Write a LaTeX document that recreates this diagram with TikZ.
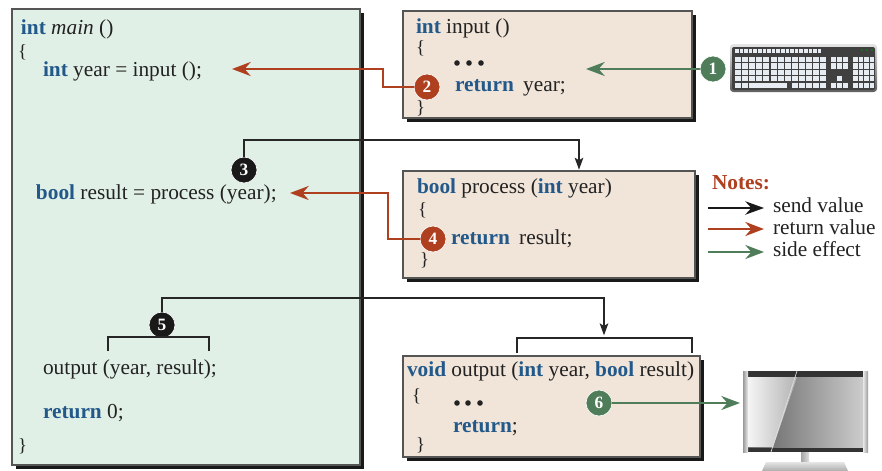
\documentclass[tikz,border=0pt]{standalone}
\usepackage{fontspec}
\setmainfont{Liberation Serif}
\usetikzlibrary{arrows.meta,shadows,calc}

\definecolor{kwblue}{HTML}{22598A}
\definecolor{retred}{HTML}{AE3F1F}
\definecolor{sidegreen}{HTML}{4F7D5A}
\definecolor{mainfill}{HTML}{E1F0E6}
\definecolor{funcfill}{HTML}{F1E4D8}
\definecolor{boxline}{HTML}{555555}
\definecolor{codetext}{HTML}{222222}
\definecolor{keycap}{HTML}{E6ECF2}

\newcommand{\kw}[1]{\textbf{\color{kwblue}#1}}

\begin{document}
\begin{tikzpicture}[x=0.75pt,y=-0.75pt,
  every node/.style={inner sep=0pt, outer sep=0pt},
  code/.style={anchor=base west, font=\fontsize{16}{19}\selectfont, text=codetext},
  brace/.style={anchor=base west, font=\fontsize{14}{16}\selectfont, text=codetext},
  panel/.style={draw=boxline, line width=0.8pt, anchor=north west,
    drop shadow={shadow xshift=3pt, shadow yshift=-3pt, opacity=1, fill=black!90}},
  num/.style={circle, minimum size=19.5pt, draw=white, line width=0.5pt,
    font=\fontsize{13}{13}\selectfont\bfseries, text=white},
  sendline/.style={draw=black!85, line width=1.1pt},
  send/.style={sendline, -{Stealth[length=9pt, width=6.5pt, inset=2pt]}},
  ret/.style={draw=retred, line width=1.7pt, -{Stealth[length=14pt, width=10.5pt, inset=4.5pt]}},
  side/.style={draw=sidegreen, line width=1.7pt, -{Stealth[length=14pt, width=10.5pt, inset=4.5pt]}},
  legsend/.style={draw=black!90, line width=1.7pt, -{Stealth[length=14pt, width=10pt, inset=4.5pt]}},
  dot/.style={fill=codetext, circle, minimum size=4.2pt},
]
\useasboundingbox (0,0) rectangle (882,471);

% ---------- panels ----------
\node[panel, fill=mainfill, minimum width=261pt, minimum height=342pt] (main) at (12,9) {};
\node[panel, fill=funcfill, minimum width=216.75pt, minimum height=80.25pt] (inp) at (403,11) {};
\node[panel, fill=funcfill, minimum width=219pt, minimum height=80.25pt] (proc) at (403,171) {};
\node[panel, fill=funcfill, minimum width=222.75pt, minimum height=75.75pt] (outp) at (403,356) {};

% ---------- main () ----------
\node[code] (m1) at (21,34) {\kw{int} \textit{main} ()};
\node[brace] (m2) at (18,57) {\{};
\node[code] (m3) at (43,76) {\kw{int} year = input ();};
\node[code] (m4) at (36,199) {\kw{bool} result = process (year);};
\node[code] (m5) at (43,374) {output (year, result);};
\node[code] (m6) at (43,418) {\kw{return} 0;};
\node[brace] (m7) at (18,451) {\}};

% ---------- input () ----------
\node[code] (i1) at (416,33) {\kw{int} input ()};
\node[brace] (i2) at (416,53) {\{};
\node[dot] (i3a) at (457,63) {};
\node[dot] (i3b) at (469,63) {};
\node[dot] (i3c) at (481,63) {};
\node[code] (i4) at (455,91) {\kw{return}\hspace{7pt}year;};
\node[brace] (i5) at (416,113) {\}};

% ---------- process () ----------
\node[code] (p1) at (417,193) {\kw{bool} process (\kw{int} year)};
\node[brace] (p2) at (418,215) {\{};
\node[code] (p3) at (451,244) {\kw{return}\hspace{7pt}result;};
\node[brace] (p4) at (420,265) {\}};

% ---------- output () ----------
\node[code] (o1) at (407,376) {\kw{void} output (\kw{int} year, \kw{bool} result)};
\node[brace] (o2) at (412,401) {\{};
\node[dot] (o3a) at (457,403) {};
\node[dot] (o3b) at (468,403) {};
\node[dot] (o3c) at (480,403) {};
\node[code] (o4) at (453,432) {\kw{return};};
\node[brace] (o5) at (416,450) {\}};

% ---------- keyboard ----------
\shade[top color=gray!20, bottom color=gray!75!black, rounded corners=2.5pt]
  (730,44) rectangle (877,92);
\fill[gray!50!black, rounded corners=1.5pt] (732,47) rectangle (875,90);
% function row
\foreach \c in {0,...,18} {\fill[keycap] (735+\c*4.6,48.5) rectangle ++(3.6,4);}
\foreach \c in {0,1,2} {\fill[green!60!black] (862+\c*5,50) circle (0.9);}
% main block
\foreach \r in {0,...,3} {
  \foreach \c in {0,...,12} {\fill[keycap] (735+\c*7.1,57+\r*6.4) rectangle ++(6,5.2);}
}
\fill[keycap] (735,82.6) rectangle ++(6,5.2);
\fill[keycap] (742.1,82.6) rectangle ++(6,5.2);
\fill[keycap] (749.2,82.6) rectangle ++(38,5.2);
\foreach \c in {0,...,4} {\fill[keycap] (791.5+\c*7.1,82.6) rectangle ++(6,5.2);}
% navigation block
\foreach \r in {0,1} {
  \foreach \c in {0,1,2} {\fill[keycap] (831+\c*6,57+\r*6.4) rectangle ++(5,5.2);}
}
\fill[keycap] (837,76.2) rectangle ++(5,5.2);
\foreach \c in {0,1,2} {\fill[keycap] (831+\c*6,82.6) rectangle ++(5,5.2);}
% numeric pad
\foreach \r in {0,...,4} {
  \foreach \c in {0,...,3} {\fill[keycap] (853+\c*5.6,57+\r*6.4) rectangle ++(4.6,5.2);}
}

% ---------- monitor ----------
\fill[gray!40!black] (743,371) rectangle (868,452);
\shade[left color=gray!80, right color=gray!15] (743,371) rectangle (748,452);
\shade[left color=gray!15, right color=gray!80] (863,371) rectangle (868,452);
\shade[left color=gray!75!black, right color=gray!40] (748,377) rectangle (863,447);
\shade[left color=gray!8, right color=gray!60] (748,377) -- (797,377) -- (773,447) -- (748,447) -- cycle;
\draw[white!75!gray, line width=0.5pt] (797,371) -- (771,452);
\shade[left color=gray!70, right color=gray!25] (801,452) rectangle (809,461);
\shade[top color=gray!20, bottom color=gray!65] (766,462) -- (844,462) -- (848,471) -- (762,471) -- cycle;
\coordinate (scr) at (740,403);

% ---------- step markers ----------
\node[num, fill=sidegreen] (c1) at (713,69) {1};
\node[num, fill=retred] (c2) at (427,87) {2};
\node[num, fill=black!90] (c3) at (244,170) {3};
\node[num, fill=retred] (c4) at (433,239) {4};
\node[num, fill=black!90] (c5) at (162,325) {5};
\node[num, fill=sidegreen] (c6) at (599,403) {6};

% ---------- connectors ----------
\coordinate (g1) at (586,69);
\draw[side] (c1.west) -- (g1);

\coordinate (k2) at (383,69);
\coordinate (r1) at (232,69);
\draw[ret] (c2.west) -| (k2) -- (r1);

\coordinate (k3) at (579,140);
\draw[send, shorten >=1pt] (c3.north) |- (k3) -- (k3 |- proc.north);

\coordinate (k4) at (388,193);
\coordinate (r2) at (290,193);
\draw[ret] (c4.west) -| (k4) -- (r2);

% bracket over the call arguments
\coordinate (mb1) at (108,351);
\coordinate (mb2) at (209,351);
\draw[sendline] (mb1) -- ++(0,-14) -| (mb2);

% bracket over the parameters
\coordinate (ob1) at (517,353);
\coordinate (ob2) at (692,353);
\draw[sendline] (ob1) -- ++(0,-15) -| (ob2);

\coordinate (k5) at (604,298);
\coordinate (obt) at (604,338);
\draw[send, shorten >=2pt] (c5.north) |- (k5) -- (obt);

\draw[side] (c6.east) -- (scr);

% ---------- legend ----------
\node[code, font=\fontsize{16}{19}\selectfont\bfseries, text=retred] (notes) at (712,189) {Notes:};
\node[code] (l1) at (773,212) {send value};
\node[code] (l2) at (773,234) {return value};
\node[code] (l3) at (773,256) {side effect};
\coordinate (la1) at (708,208); \coordinate (la2) at (764,208);
\coordinate (lb1) at (708,229); \coordinate (lb2) at (764,229);
\coordinate (lc1) at (708,252); \coordinate (lc2) at (764,252);
\draw[legsend] (la1) -- (la2);
\draw[ret] (lb1) -- (lb2);
\draw[side] (lc1) -- (lc2);
\end{tikzpicture}
\end{document}
